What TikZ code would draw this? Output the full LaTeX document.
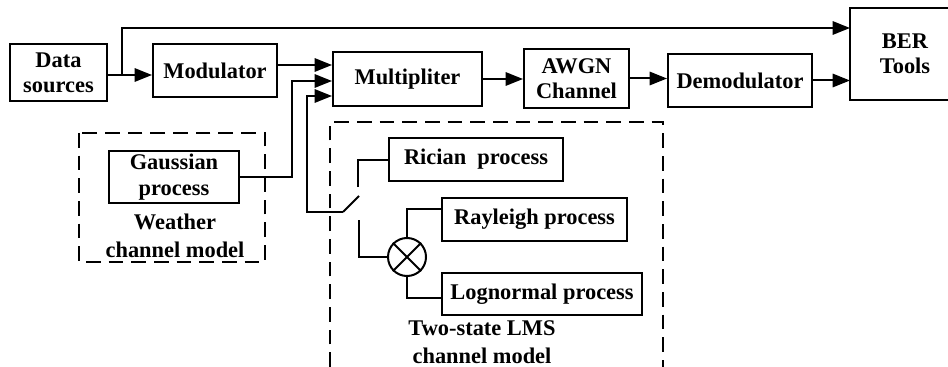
\documentclass[tikz,border=0pt]{standalone}
\usepackage{fontspec}
\setmainfont{Liberation Serif}
\usetikzlibrary{arrows.meta}

\begin{document}
\begin{tikzpicture}[x=0.75pt,y=0.75pt,yscale=-1,xscale=1,
  blk/.style={draw,line width=1.5pt,align=center,inner sep=0pt,font=\fontsize{16.8}{19}\selectfont\bfseries},
  lbl/.style={align=center,inner sep=0pt,font=\fontsize{16.8}{21}\selectfont\bfseries},
  wire/.style={line width=1.5pt},
  arr/.style={wire,-{Triangle[length=13pt,width=10pt]}},
  dashbox/.style={line width=1.5pt,dash pattern=on 11pt off 6pt}]
\useasboundingbox (0,0) rectangle (948,367);
\clip (0,0) rectangle (948,367);

% Blocks of the main chain
\node [blk,minimum width=72.75pt,minimum height=42.75pt] (ds) at (58.5,72.5) {Data\\sources};
\node [blk,minimum width=93pt,minimum height=39.75pt] (mod) at (215,70.5) {Modulator};
\node [blk,minimum width=111.75pt,minimum height=40.5pt] (mult) at (407.5,79) {Multipliter};
\node [blk,minimum width=78.75pt,minimum height=44.25pt] (awgn) at (576.5,78.5) {AWGN\\Channel};
\node [blk,minimum width=108pt,minimum height=39.75pt] (dem) at (740,80.5) {Demodulator};
% BER box runs off the right edge
\node [blk,draw=none,overlay,minimum width=81pt,minimum height=67.5pt] (ber) at (905,54) {BER\\Tools};
\draw [wire,overlay] (ber.north east) -- (ber.north west) -- (ber.south west) -- (ber.south east);

% Weather channel model
\draw [dashbox] (79,133) rectangle (265,262);
\node [blk,minimum width=97.5pt,minimum height=39pt] (gau) at (174,177) {Gaussian\\process};
% Text Node
\node [lbl] (wlbl) at (175,236) {Weather\\channel model};

% Two-state LMS channel model
\draw [dashbox] (330,367) -- (330,122) -- (663,122) -- (663,367);
\node [blk,minimum width=130.5pt,minimum height=32.25pt] (ric) at (476,159.5) {Rician\ \ process};
\node [blk,minimum width=138.75pt,minimum height=32.25pt] (ray) at (534.5,219.5) {Rayleigh process};
\node [blk,minimum width=150pt,minimum height=31.5pt] (logn) at (542,294) {Lognormal process};
\node [draw,circle,line width=1.5pt,minimum size=28.5pt,inner sep=0pt] (mix) at (407,257) {};
\draw [wire] (mix.north west) -- (mix.south east);
\draw [wire] (mix.north east) -- (mix.south west);
% Text Node
\node [lbl] (llbl) at (482,342) {Two-state LMS\\channel model};

% switch
\coordinate (sw) at (343,212);
\coordinate (swtip) at (359,196);
\coordinate (c1) at (358,187);
\coordinate (c2) at (359,220);
\coordinate (split) at (122,75);

%Straight Lines
\draw [wire] (ds.east |- split) -- (split);
\draw [arr] (split) -- (mod.west |- split);
\draw [arr] (split) |- (ber.west |- 0,28);
\draw [arr] (mod.east |- 0,65) -- (mult.west |- 0,65);
\draw [arr] (gau.east) -| (292,81) -- (mult.west |- 0,81);
\draw [arr] (sw) -| (307,96) -- (mult.west |- 0,96);
\draw [wire] (sw) -- (swtip);
\draw [wire] (c1) |- (ric.west);
\draw [wire] (c2) |- (mix.west);
\draw [wire] (mix.north) |- (ray.west |- 0,209);
\draw [wire] (mix.south) |- (logn.west |- 0,298);
\draw [arr] (mult.east) -- (awgn.west |- mult.east);
\draw [arr] (awgn.east) -- (dem.west |- awgn.east);
\draw [arr] (dem.east) -- (ber.west |- dem.east);

\end{tikzpicture}
\end{document}
